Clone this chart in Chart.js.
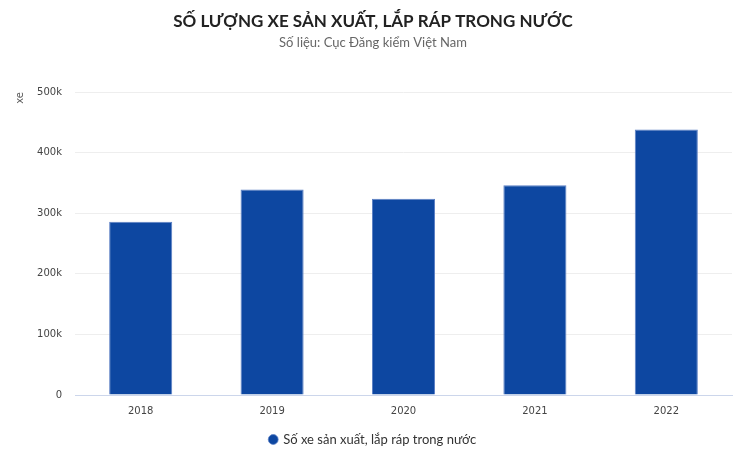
<!DOCTYPE html>
<html lang="vi">
  <head>
    <meta charset="UTF-8" />
    <title>Số lượng xe sản xuất, lắp ráp trong nước</title>
    <script src="https://cdn.jsdelivr.net/npm/chart.js"></script>
    <style>
      html, body { margin: 0; padding: 0; background: #ffffff; }
      #wrap { width: 746px; height: 460px; }
    </style>
  </head>
  <body>
    <div id="wrap"><canvas id="xeChart" width="746" height="460"></canvas></div>
    <script>
      // Dữ liệu
      const years = ["2018", "2019", "2020", "2021", "2022"];
      const soXe = [286000, 339000, 324000, 346000, 438000];
      const yTicks = [0, 100000, 200000, 300000, 400000, 500000];

      const ctx = document.getElementById("xeChart").getContext("2d");
      new Chart(ctx, {
        type: "bar",
        data: {
          labels: years,
          datasets: [
            {
              label: "Số xe sản xuất, lắp ráp trong nước",
              data: soXe,
              backgroundColor: "#0d47a1",
              borderColor: "#5b7fc4",
              borderWidth: { top: 1, left: 1, right: 1, bottom: 0 },
              borderSkipped: "bottom",
              categoryPercentage: 1,
              barPercentage: 0.48,
            },
          ],
        },
        options: {
          responsive: false,
          animation: false,
          layout: { padding: { left: 14, right: 14, top: 6, bottom: 4 } },
          plugins: {
            title: {
              display: true,
              text: "SỐ LƯỢNG XE SẢN XUẤT, LẮP RÁP TRONG NƯỚC",
              color: "#222222",
              font: { family: "Lato", size: 17, weight: "bold" },
              padding: { top: 5, bottom: 4 },
            },
            subtitle: {
              display: true,
              text: "Số liệu: Cục Đăng kiểm Việt Nam",
              color: "#666666",
              font: { family: "Lato", size: 13 },
              padding: { top: 0, bottom: 41 },
            },
            legend: {
              position: "bottom",
              labels: {
                usePointStyle: true,
                pointStyle: "circle",
                boxWidth: 7,
                boxHeight: 7,
                color: "#333333",
                font: { family: "Lato", size: 13 },
                padding: 14,
              },
            },
            tooltip: { enabled: true },
          },
          scales: {
            x: {
              grid: { display: false },
              border: { color: "#ccd6eb", width: 1 },
              ticks: {
                color: "#444444",
                font: { family: "DejaVu Sans", size: 10 },
                padding: 2,
              },
            },
            y: {
              min: 0,
              max: 500000,
              afterBuildTicks: (axis) => {
                axis.ticks = yTicks.map((v) => ({ value: v }));
              },
              afterFit: (axis) => {
                axis.width = 61;
              },
              grid: { color: "#eeeeee", drawTicks: false },
              border: { display: false },
              ticks: {
                color: "#444444",
                font: { family: "DejaVu Sans", size: 10 },
                padding: 13,
                callback: (v) => (v === 0 ? "0" : v / 1000 + "k"),
              },
              title: {
                display: true,
                text: "xe",
                align: "end",
                color: "#555555",
                font: { family: "DejaVu Sans", size: 10 },
                padding: { top: 0, bottom: 4 },
              },
            },
          },
        },
      });
    </script>
  </body>
</html>
